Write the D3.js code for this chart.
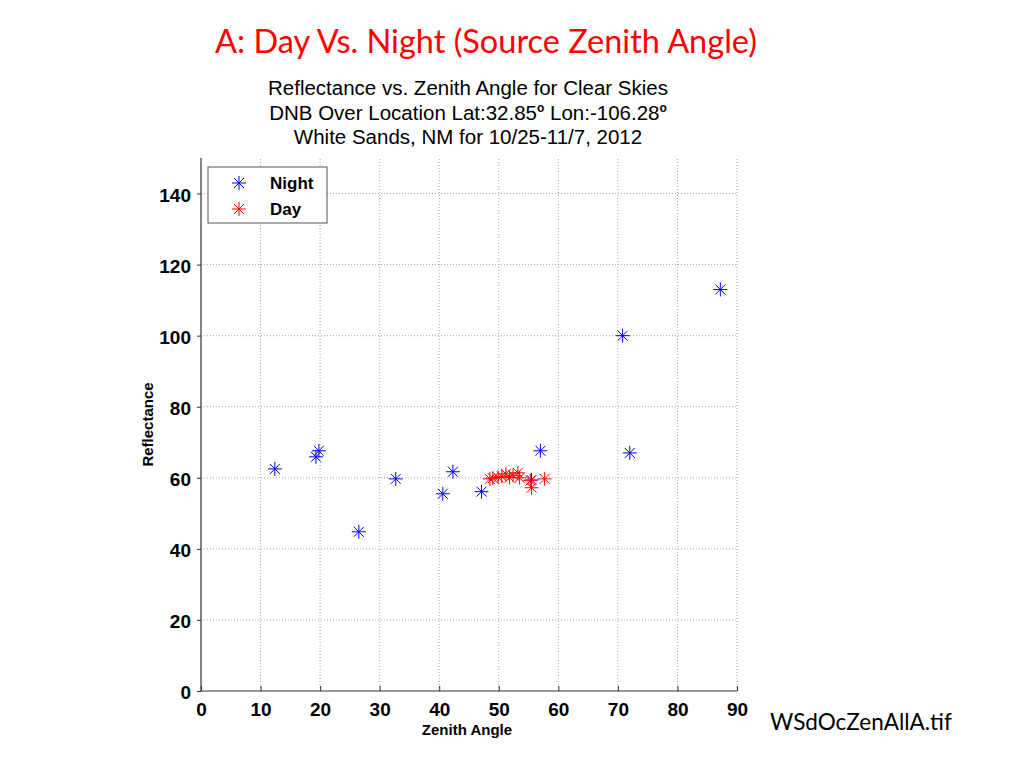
<!DOCTYPE html>
<html>
<head>
<meta charset="utf-8">
<title>Day vs Night</title>
<style>
body { margin: 0; background: #fff; }
svg text { font-family: Arial, "Liberation Sans", sans-serif; }
</style>
</head>
<body>
<script src="https://d3js.org/d3.v7.min.js"></script>
<script>
// dane
var nightAngle = [12.4, 19.3, 19.8, 26.5, 32.7, 40.6, 42.3, 47.1, 55.5, 57.0, 70.8, 72.0, 87.2];
var nightRefl  = [62.5, 65.9, 67.6, 44.8, 59.7, 55.5, 61.7, 56.1, 59.4, 67.6, 100.0, 67.0, 113.0];
var dayAngle = [48.5, 49.0, 49.9, 50.5, 51.2, 51.8, 52.4, 53.2, 53.5, 55.3, 55.5, 57.7];
var dayRefl  = [59.7, 59.9, 60.1, 60.4, 61.1, 60.1, 60.7, 61.4, 60.0, 59.2, 57.2, 59.7];
var xTicks = [0, 10, 20, 30, 40, 50, 60, 70, 80, 90];
var yTicks = [0, 20, 40, 60, 80, 100, 120, 140];
var titleLines = [
  ["Reflectance vs. Zenith Angle for Clear Skies"],
  ["DNB Over Location Lat:32.85", "o", " Lon:-106.28", "o"],
  ["White Sands, NM for 10/25-11/7, 2012"]];

var width = 1024, height = 768;
var plotLeft = 201, plotRight = 737, plotTop = 158, plotBottom = 691;

var svg = d3.select('body').append('svg')
  .attr('width', width)
  .attr('height', height);

var x = d3.scaleLinear().domain([0, 90]).range([plotLeft, plotRight]);
var y = d3.scaleLinear().domain([0, 150]).range([plotBottom, plotTop]);

// tytul slajdu
svg.append('text')
  .attr('x', 486).attr('y', 53)
  .attr('text-anchor', 'middle')
  .style('font-family', 'Lato, "Open Sans", sans-serif')
  .style('font-size', '32.5px')
  .style('fill', '#ff0000')
  .text('A: Day Vs. Night (Source Zenith Angle)');

svg.append('text')
  .attr('x', 770).attr('y', 730)
  .style('font-family', 'Lato, "Open Sans", sans-serif')
  .style('font-size', '22.5px')
  .style('fill', '#000')
  .text('WSdOcZenAllA.tif');

// siatka
svg.append('g').selectAll('line')
  .data(xTicks.slice(1))
  .enter().append('line')
  .attr('x1', function(d) { return x(d); })
  .attr('x2', function(d) { return x(d); })
  .attr('y1', y(0)).attr('y2', y(150))
  .style('stroke', '#a8a8a8')
  .style('stroke-dasharray', '1,2');

svg.append('g').selectAll('line')
  .data(yTicks.slice(1))
  .enter().append('line')
  .attr('x1', x(0)).attr('x2', x(90))
  .attr('y1', function(d) { return y(d); })
  .attr('y2', function(d) { return y(d); })
  .style('stroke', '#a8a8a8')
  .style('stroke-dasharray', '1,2');

// osie
var xAxis = svg.append('g')
  .attr('transform', 'translate(0,' + plotBottom + ')')
  .call(d3.axisBottom(x).tickValues(xTicks).tickSizeInner(-5).tickSizeOuter(0).tickPadding(10));
var yAxis = svg.append('g')
  .attr('transform', 'translate(' + plotLeft + ',0)')
  .call(d3.axisLeft(y).tickValues(yTicks).tickSizeInner(4).tickSizeOuter(0).tickPadding(6));

[xAxis, yAxis].forEach(function(a) {
  a.select('.domain').style('stroke', '#333').style('stroke-width', 1.2);
  a.selectAll('.tick line').style('stroke', '#333');
  a.selectAll('.tick text')
    .style('font-family', 'Arial, "Liberation Sans", sans-serif')
    .style('font-size', '19px')
    .style('font-weight', 'bold')
    .style('fill', '#000');
});
xAxis.select('.domain').attr('d', 'M' + plotLeft + ',0H' + plotRight);
yAxis.select('.domain').attr('d', 'M0,' + plotBottom + 'V' + plotTop);
yAxis.selectAll('.tick text').attr('dy', '0.4em');
xAxis.selectAll('.tick text').attr('dy', '0.8em');

// etykiety osi
svg.append('text')
  .attr('x', (plotLeft + plotRight) / 2 - 2).attr('y', 735)
  .attr('text-anchor', 'middle')
  .style('font-size', '15px').style('font-weight', 'bold')
  .text('Zenith Angle');
svg.append('text')
  .attr('transform', 'translate(153,' + ((plotTop + plotBottom) / 2) + ') rotate(-90)')
  .attr('text-anchor', 'middle')
  .style('font-size', '15px').style('font-weight', 'bold')
  .text('Reflectance');

// tytul wykresu
var tl = svg.append('g').selectAll('text')
  .data(titleLines)
  .enter().append('text')
  .attr('x', 468)
  .attr('y', function(d, i) { return 95 + i * 24.5; })
  .attr('text-anchor', 'middle')
  .style('font-size', '20.5px')
  .style('fill', '#000');
tl.selectAll('tspan')
  .data(function(d) { return d; })
  .enter().append('tspan')
  .attr('dy', function(d, i) { return d === 'o' ? -8 : (i > 0 ? 8 : 0); })
  .style('font-size', function(d) { return d === 'o' ? '12px' : null; })
  .style('font-weight', function(d) { return d === 'o' ? 'bold' : null; })
  .text(function(d) { return d; });

// gwiazdki
function star(g, cx, cy, color) {
  var r = 7, d = 5;
  var s = g.append('g').attr('transform', 'translate(' + cx + ',' + cy + ')')
    .style('stroke', color).style('stroke-width', 1);
  s.append('line').attr('x1', -r).attr('x2', r).attr('y1', 0).attr('y2', 0);
  s.append('line').attr('x1', 0).attr('x2', 0).attr('y1', -r).attr('y2', r);
  s.append('line').attr('x1', -d).attr('x2', d).attr('y1', -d).attr('y2', d);
  s.append('line').attr('x1', -d).attr('x2', d).attr('y1', d).attr('y2', -d);
}

var night = nightAngle.map(function(a, i) { return {a: a, r: nightRefl[i]}; });
var day = dayAngle.map(function(a, i) { return {a: a, r: dayRefl[i]}; });

var pts = svg.append('g');
night.forEach(function(d) { star(pts, x(d.a), y(d.r), '#0000ff'); });
day.forEach(function(d) { star(pts, x(d.a), y(d.r), '#ff0000'); });

// legenda
var leg = svg.append('g');
leg.append('rect')
  .attr('x', 208).attr('y', 167).attr('width', 119).attr('height', 56)
  .style('fill', '#fff').style('stroke', '#555').style('stroke-width', 1);
star(leg, 239, 183, '#0000ff');
star(leg, 239, 209, '#ff0000');
leg.append('text').attr('x', 270).attr('y', 189)
  .style('font-size', '17px').style('font-weight', 'bold').text('Night');
leg.append('text').attr('x', 270).attr('y', 215)
  .style('font-size', '17px').style('font-weight', 'bold').text('Day');
</script>
</body>
</html>
